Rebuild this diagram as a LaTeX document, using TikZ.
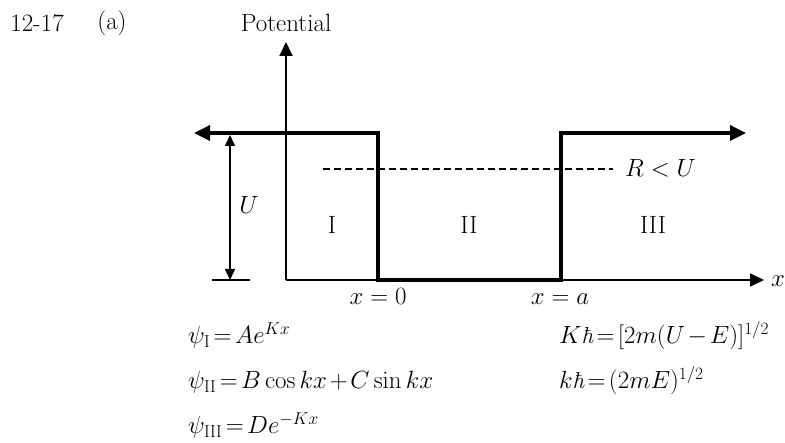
\documentclass[tikz,border=0pt]{standalone}
\usetikzlibrary{arrows.meta}
\begin{document}
\begin{tikzpicture}[x=1pt,y=-1pt,
  every node/.style={font=\fontsize{23}{28}\selectfont, inner sep=0pt},
  bigtext/.style={font=\fontsize{25}{30}\selectfont},
  axisline/.style={line width=1.8pt, -{Triangle[length=14pt,width=13pt]}},
  potline/.style={line width=3.4pt, line join=miter,
     {Triangle[length=16pt,width=15pt]}-{Triangle[length=16pt,width=15pt]}},
  uarrow/.style={line width=1.5pt,
     {Triangle[length=11pt,width=10pt]}-{Triangle[length=11pt,width=10pt]}},
  tick/.style={line width=1.6pt},
  energy/.style={line width=1.8pt, dash pattern=on 7pt off 4pt},
  eqn/.style={anchor=base west,
     execute at begin node={\thickmuskip=2.5mu\medmuskip=2mu}}]
\useasboundingbox (0,0) rectangle (785,443);

% header
\node[bigtext] (num) at (37,23) {12-17};
\node[bigtext] (part) at (112,23) {(a)};
\node[bigtext] (pot) at (286,23) {Potential};

% coordinates
\coordinate (O) at (286,280);
\coordinate (ytip) at (286,42);
\coordinate (xtip) at (764,280);
\coordinate (ltip) at (194,133);
\coordinate (A) at (378,133);
\coordinate (B) at (378,280);
\coordinate (C) at (561,280);
\coordinate (D) at (561,133);
\coordinate (rtip) at (746,133);
\coordinate (Ut) at (230,135);
\coordinate (Ub) at (230,280);
\coordinate (tl) at (212,280);
\coordinate (tr) at (250,280);
\coordinate (el) at (323,169);
\coordinate (er) at (613,169);

% axes
\draw[axisline] (O) -- (ytip);
\draw[axisline] (O) -- (xtip);
\node[anchor=west] (xlab) at (771,281) {$x$};

% potential
\draw[potline] (ltip) -- (A) -- (B) -- (C) -- (D) -- (rtip);

% U marker
\draw[uarrow] (Ut) -- (Ub);
\draw[tick] (tl) -- (tr);
\node[bigtext] (ulab) at (249,205) {$U$};

% energy level
\draw[energy] (el) -- (er);
\node[anchor=west, bigtext] (rlab) at (625,168) {$R < U$};

% regions
\node[bigtext] (r1) at (332,225) {I};
\node[bigtext] (r2) at (469,225) {II};
\node[bigtext] (r3) at (653,225) {III};

% positions
\node[anchor=base] (x0) at (378,305) {$x = 0$};
\node[anchor=base] (xa) at (560,305) {$x = a$};

% equations
\node[eqn] (p1) at (188,344) {$\psi_{\mathrm{I}} = Ae^{Kx}$};
\node[eqn] (p2) at (188,389) {$\psi_{\mathrm{II}} = B\cos kx + C\sin kx$};
\node[eqn] (p3) at (188,434) {$\psi_{\mathrm{III}} = De^{-Kx}$};
\node[eqn] (k1) at (559,344) {$K\textit{ħ} = [2m(U-E)]^{1/2}$};
\node[eqn] (k2) at (559,389) {$k\textit{ħ} = (2mE)^{1/2}$};
\end{tikzpicture}
\end{document}
